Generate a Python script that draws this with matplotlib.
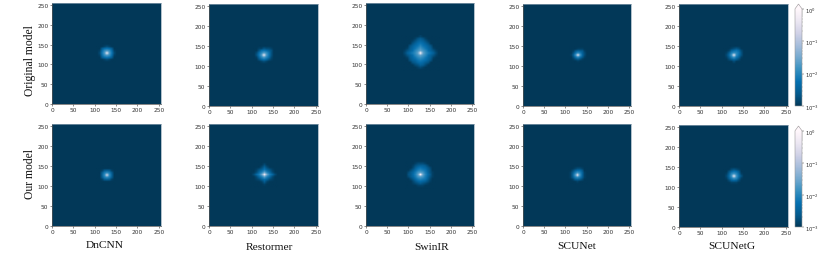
import numpy as np
import matplotlib
matplotlib.use("Agg")
import matplotlib.pyplot as plt
from matplotlib.colors import LogNorm

W, H = 830, 255

models = ["DnCNN", "Restormer", "SwinIR", "SCUNet", "SCUNetG"]
rows = ["Original model", "Our model"]
ticks = [0, 50, 100, 150, 200, 250]

# spectrum around the centre, tenths of a decade above 1e-3, bottom row first
orig_dncnn = [
    [0, 0, 0, 0, 0, 0, 0, 0, 0],
    [0, 0, 0, 1, 2, 1, 0, 0, 0],
    [0, 0, 4, 7, 8, 7, 4, 0, 0],
    [0, 1, 7, 11, 13, 11, 7, 1, 0],
    [0, 2, 8, 13, 27, 13, 8, 2, 0],
    [0, 1, 7, 11, 13, 11, 7, 1, 0],
    [0, 0, 4, 7, 8, 7, 4, 0, 0],
    [0, 0, 0, 1, 2, 1, 0, 0, 0],
    [0, 0, 0, 0, 0, 0, 0, 0, 0],
]
orig_restormer = [
    [0, 0, 0, 0, 0, 0, 0, 0, 0],
    [0, 0, 0, 1, 2, 1, 0, 0, 0],
    [0, 0, 3, 6, 8, 6, 3, 1, 0],
    [0, 1, 6, 10, 13, 10, 7, 2, 0],
    [0, 3, 8, 13, 27, 13, 8, 3, 0],
    [0, 2, 7, 10, 13, 11, 8, 3, 0],
    [0, 0, 3, 7, 8, 7, 5, 3, 0],
    [0, 0, 1, 1, 3, 2, 2, 1, 0],
    [0, 0, 0, 0, 0, 0, 0, 0, 0],
]
orig_swinir = [
    [0, 0, 0, 0, 0, 0, 0, 0, 0, 0, 0, 0, 0, 0, 0],
    [0, 0, 0, 0, 0, 0, 1, 2, 1, 0, 0, 0, 0, 0, 0],
    [0, 0, 0, 0, 0, 2, 3, 5, 4, 2, 0, 0, 0, 0, 0],
    [0, 0, 0, 0, 3, 4, 6, 7, 6, 4, 3, 0, 0, 0, 0],
    [0, 0, 0, 3, 5, 6, 8, 9, 8, 7, 5, 3, 0, 0, 0],
    [0, 0, 1, 4, 6, 8, 10, 11, 10, 8, 6, 4, 1, 0, 0],
    [0, 1, 3, 5, 7, 10, 12, 14, 12, 10, 7, 5, 3, 1, 0],
    [0, 2, 5, 7, 9, 11, 14, 28, 14, 11, 9, 7, 5, 2, 0],
    [0, 1, 3, 5, 7, 10, 12, 14, 12, 10, 7, 5, 3, 1, 0],
    [0, 0, 1, 4, 6, 8, 10, 12, 10, 8, 6, 4, 1, 0, 0],
    [0, 0, 0, 3, 5, 7, 8, 10, 8, 7, 5, 3, 0, 0, 0],
    [0, 0, 0, 0, 3, 5, 7, 8, 7, 5, 3, 0, 0, 0, 0],
    [0, 0, 0, 0, 1, 3, 5, 6, 5, 3, 1, 0, 0, 0, 0],
    [0, 0, 0, 0, 0, 1, 3, 4, 3, 1, 0, 0, 0, 0, 0],
    [0, 0, 0, 0, 0, 0, 0, 1, 0, 0, 0, 0, 0, 0, 0],
]
orig_scunet = [
    [0, 0, 0, 0, 0, 0, 0, 0, 0],
    [0, 0, 0, 0, 1, 0, 0, 0, 0],
    [0, 0, 1, 3, 5, 3, 1, 0, 0],
    [0, 0, 3, 8, 11, 8, 4, 1, 0],
    [0, 1, 5, 12, 26, 12, 6, 2, 0],
    [0, 0, 3, 8, 11, 9, 5, 2, 0],
    [0, 0, 1, 4, 6, 5, 4, 1, 0],
    [0, 0, 0, 0, 1, 1, 1, 0, 0],
    [0, 0, 0, 0, 0, 0, 0, 0, 0],
]
orig_scunetg = [
    [0, 0, 0, 0, 0, 0, 0, 0, 0],
    [0, 0, 0, 0, 2, 0, 0, 0, 0],
    [0, 0, 2, 4, 6, 4, 2, 0, 0],
    [0, 1, 4, 9, 12, 8, 5, 1, 0],
    [0, 2, 6, 12, 27, 11, 7, 3, 0],
    [0, 1, 4, 9, 11, 10, 8, 3, 0],
    [0, 0, 1, 5, 7, 8, 6, 2, 0],
    [0, 0, 0, 1, 2, 3, 2, 0, 0],
    [0, 0, 0, 0, 0, 0, 0, 0, 0],
]
our_dncnn = [
    [0, 0, 0, 0, 0, 0, 0, 0, 0],
    [0, 0, 0, 0, 0, 0, 0, 0, 0],
    [0, 0, 1, 4, 5, 4, 1, 0, 0],
    [0, 0, 4, 9, 11, 9, 4, 0, 0],
    [0, 0, 5, 11, 24, 11, 5, 0, 0],
    [0, 0, 4, 9, 11, 9, 4, 0, 0],
    [0, 0, 1, 4, 5, 4, 1, 0, 0],
    [0, 0, 0, 0, 0, 0, 0, 0, 0],
    [0, 0, 0, 0, 0, 0, 0, 0, 0],
]
our_restormer = [
    [0, 0, 0, 0, 0, 0, 0, 0, 0, 0, 0],
    [0, 0, 0, 0, 0, 1, 0, 0, 0, 0, 0],
    [0, 0, 0, 0, 1, 4, 1, 0, 0, 0, 0],
    [0, 0, 1, 2, 5, 7, 5, 2, 1, 0, 0],
    [0, 0, 2, 6, 9, 13, 9, 6, 2, 0, 0],
    [0, 2, 6, 9, 14, 26, 14, 9, 6, 2, 0],
    [0, 0, 2, 6, 9, 13, 9, 6, 2, 0, 0],
    [0, 0, 1, 3, 5, 8, 5, 3, 1, 0, 0],
    [0, 0, 0, 0, 2, 5, 2, 0, 0, 0, 0],
    [0, 0, 0, 0, 0, 2, 0, 0, 0, 0, 0],
    [0, 0, 0, 0, 0, 0, 0, 0, 0, 0, 0],
]
our_swinir = [
    [0, 0, 0, 0, 0, 0, 0, 0, 0, 0, 0, 0, 0],
    [0, 0, 0, 0, 0, 1, 1, 1, 0, 0, 0, 0, 0],
    [0, 0, 0, 1, 2, 3, 4, 3, 2, 1, 0, 0, 0],
    [0, 0, 0, 2, 4, 6, 7, 6, 5, 3, 1, 0, 0],
    [0, 0, 2, 4, 7, 9, 10, 9, 8, 5, 2, 0, 0],
    [0, 2, 4, 6, 9, 12, 13, 12, 9, 6, 3, 1, 0],
    [0, 3, 4, 7, 10, 14, 28, 14, 10, 7, 4, 1, 0],
    [0, 2, 4, 6, 9, 12, 13, 12, 9, 6, 3, 1, 0],
    [0, 0, 2, 4, 7, 9, 10, 9, 8, 5, 3, 0, 0],
    [0, 0, 0, 2, 5, 7, 8, 7, 6, 4, 2, 0, 0],
    [0, 0, 0, 1, 3, 4, 5, 5, 4, 2, 0, 0, 0],
    [0, 0, 0, 0, 1, 2, 2, 2, 1, 0, 0, 0, 0],
    [0, 0, 0, 0, 0, 0, 0, 0, 0, 0, 0, 0, 0],
]
our_scunet = [
    [0, 0, 0, 0, 0, 0, 0, 0, 0],
    [0, 0, 0, 0, 1, 0, 0, 0, 0],
    [0, 0, 1, 4, 5, 4, 2, 0, 0],
    [0, 1, 4, 9, 11, 9, 5, 1, 0],
    [0, 1, 5, 12, 25, 12, 6, 1, 0],
    [0, 1, 4, 9, 12, 10, 6, 1, 0],
    [0, 0, 2, 5, 7, 7, 4, 0, 0],
    [0, 0, 0, 1, 2, 2, 1, 0, 0],
    [0, 0, 0, 0, 0, 0, 0, 0, 0],
]
our_scunetg = [
    [0, 0, 0, 0, 0, 0, 0, 0, 0],
    [0, 0, 0, 1, 1, 1, 0, 0, 0],
    [0, 0, 2, 5, 6, 5, 2, 0, 0],
    [0, 1, 5, 9, 12, 10, 5, 1, 0],
    [0, 2, 6, 12, 27, 12, 7, 3, 0],
    [0, 1, 5, 10, 12, 10, 6, 1, 0],
    [0, 0, 3, 6, 8, 7, 4, 0, 0],
    [0, 0, 0, 2, 3, 2, 1, 0, 0],
    [0, 0, 0, 0, 0, 0, 0, 0, 0],
]

panels = [
    [orig_dncnn, orig_restormer, orig_swinir, orig_scunet, orig_scunetg],
    [our_dncnn, our_restormer, our_swinir, our_scunet, our_scunetg],
]

# pixel boxes
col_x = [(52, 161), (209, 318), (366, 474), (523, 631), (679, 788)]
row_y = [
    [(4, 105), (5, 107), (4, 105), (5, 107), (5, 107)],
    [(125, 227), (125, 227), (125, 227), (125, 227), (126, 228)],
]
cbar_x = (795, 802)
cbar_y = [(5, 107), (127, 228)]
title_pos = [(105, 246), (269, 248), (432, 248), (577, 247), (732, 247)]
row_label_y = [61, 174]
# cell size of each patch in image units
cell_sizes = [
    [5.5, 5.5, 6, 5, 5.5],
    [5.5, 6, 5.5, 5.5, 5.5],
]
CENTER = 128


def box(x, y):
    return [x[0] / W, 1 - y[1] / H, (x[1] - x[0]) / W, (y[1] - y[0]) / H]


cmap = plt.get_cmap("PuBu_r")
norm = LogNorm(vmin=1e-3, vmax=1)

fig = plt.figure(figsize=(W / 100, H / 100), dpi=100)

for r in range(2):
    for c in range(5):
        patch = np.array(panels[r][c], dtype=float)
        half = patch.shape[0] * cell_sizes[r][c] / 2
        ax = fig.add_axes(box(col_x[c], row_y[r][c]))
        ax.set_facecolor(cmap(0.0))
        im = ax.imshow(
            10 ** (-3 + patch / 10),
            origin="lower",
            extent=(CENTER - half, CENTER + half, CENTER - half, CENTER + half),
            cmap=cmap,
            norm=norm,
            interpolation="bilinear",
        )
        ax.set_xlim(0, 255)
        ax.set_ylim(0, 255)
        ax.set_aspect("auto")
        ax.set_xticks(ticks)
        ax.set_yticks(ticks)
        ax.tick_params(labelsize=4.2, length=1.5, width=0.4, pad=1, colors="#333333")
        for spine in ax.spines.values():
            spine.set_linewidth(0.5)
            spine.set_color("#555555")
        ax.spines["right"].set_color("#8fa5b5")
        ax.spines["top"].set_color("#8fa5b5")

    cax = fig.add_axes(box(cbar_x, cbar_y[r]))
    cb = fig.colorbar(im, cax=cax, extend="max", extendfrac=0.05)
    cb.set_ticks([1, 0.1, 0.01, 0.001])
    cb.ax.tick_params(which="major", labelsize=3.8, length=1.5, width=0.3, pad=1, colors="#333333")
    cb.ax.tick_params(which="minor", length=0.8, width=0.2, colors="#555555")
    cb.outline.set_linewidth(0.4)
    cb.outline.set_edgecolor("#999999")

for name, (x, y) in zip(models, title_pos):
    fig.text(x / W, 1 - y / H, name, ha="center", va="center",
             family="Liberation Serif", fontsize=8.2, color="#111111")
for name, y in zip(rows, row_label_y):
    fig.text(30 / W, 1 - y / H, name, ha="center", va="center", rotation=90,
             family="Liberation Serif", fontsize=8.4, color="#111111")

fig.savefig("out.png", dpi=100)
